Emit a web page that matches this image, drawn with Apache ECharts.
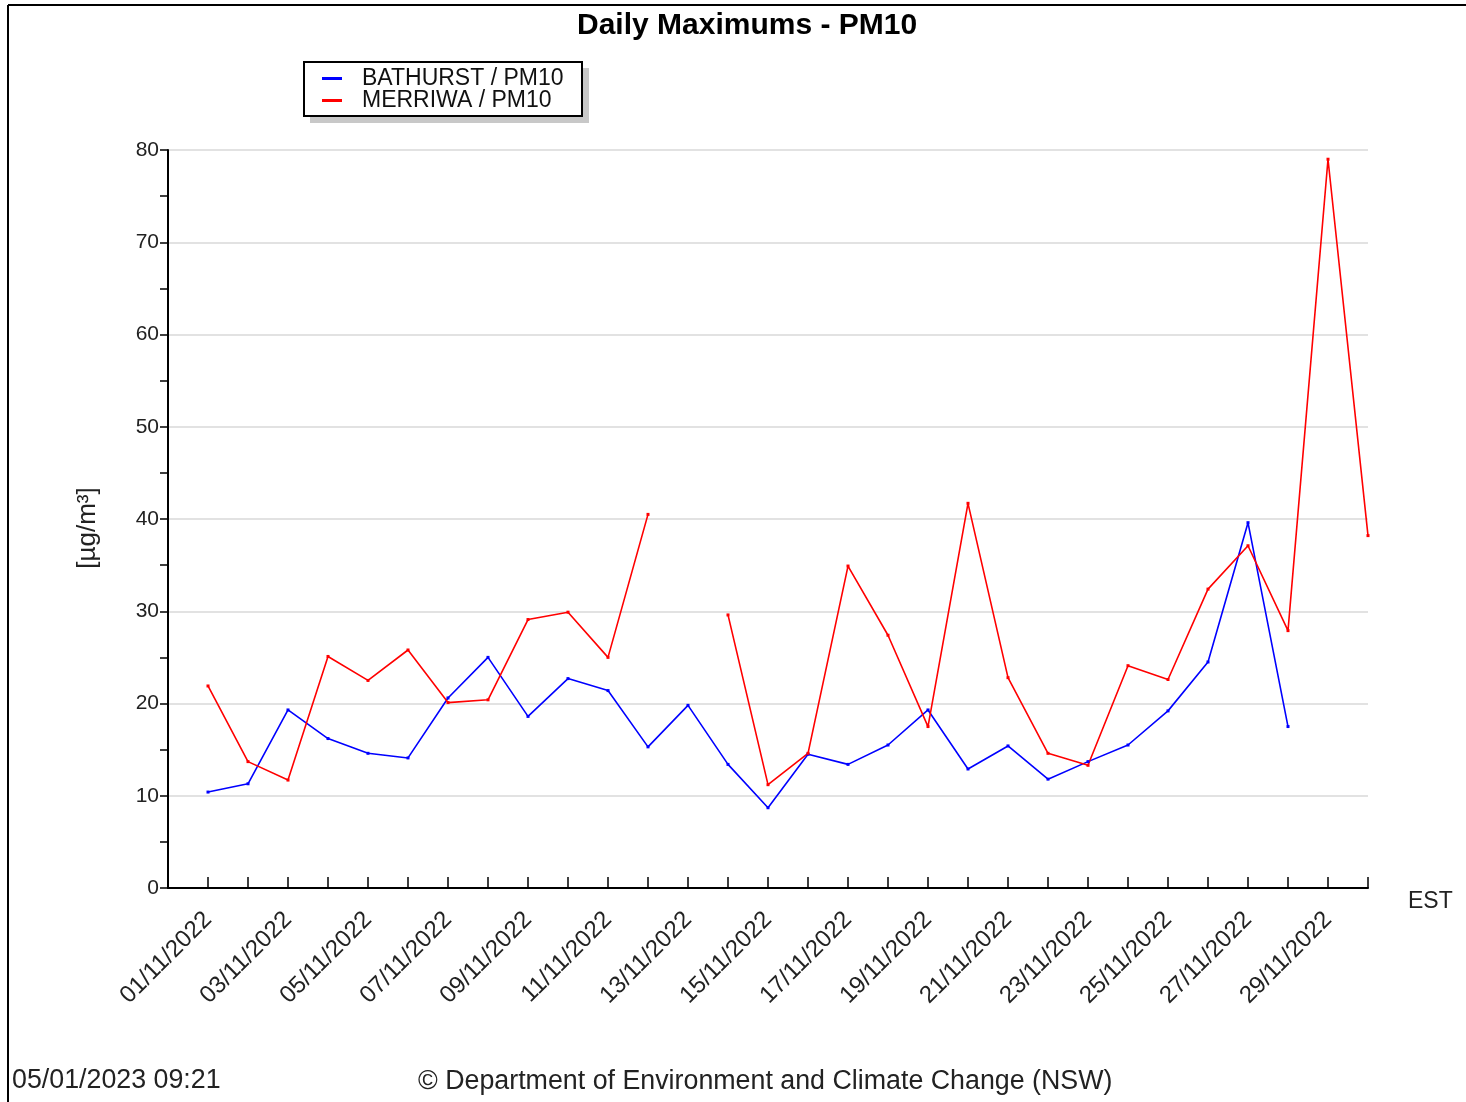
<!DOCTYPE html>
<html>
<head>
<meta charset="utf-8">
<script src="https://cdn.jsdelivr.net/npm/echarts@6/dist/echarts.min.js"></script>
<style>
html,body{margin:0;padding:0;background:#fff;}
#chart{width:1466px;height:1102px;}
</style>
</head>
<body>
<div id="chart"></div>
<script>
var dates = ['01/11/2022','02/11/2022','03/11/2022','04/11/2022','05/11/2022','06/11/2022','07/11/2022','08/11/2022','09/11/2022','10/11/2022',
             '11/11/2022','12/11/2022','13/11/2022','14/11/2022','15/11/2022','16/11/2022','17/11/2022','18/11/2022','19/11/2022','20/11/2022',
             '21/11/2022','22/11/2022','23/11/2022','24/11/2022','25/11/2022','26/11/2022','27/11/2022','28/11/2022','29/11/2022','30/11/2022'];
var bathurst = [10.4, 11.3, 19.3, 16.2, 14.6, 14.1, 20.6, 25.0, 18.6, 22.7,
                21.4, 15.3, 19.8, 13.4, 8.7, 14.5, 13.4, 15.5, 19.3, 12.9,
                15.4, 11.8, 13.7, 15.5, 19.2, 24.5, 39.6, 17.5, null, null];
var merriwa  = [21.9, 13.7, 11.7, 25.1, 22.5, 25.8, 20.1, 20.4, 29.1, 29.9,
                25.0, 40.5, null, 29.6, 11.2, 14.6, 34.9, 27.4, 17.5, 41.7,
                22.8, 14.6, 13.3, 24.1, 22.6, 32.4, 37.1, 27.9, 79.0, 38.2];
var seriesNames = ['BATHURST / PM10', 'MERRIWA / PM10'];
var yTicks = [0, 10, 20, 30, 40, 50, 60, 70, 80];

function pairs(vals){ return vals.map(function(v,i){ return [i+1, v]; }); }

var FONT = '"Liberation Sans", Arial, sans-serif';
var chart = echarts.init(document.getElementById('chart'), null, {renderer:'canvas'});
chart.setOption({
  animation:false,
  backgroundColor:'#ffffff',
  textStyle:{fontFamily:FONT},
  title:{
    text:'Daily Maximums - PM10',
    left:572, top:6,
    textStyle:{fontFamily:FONT, fontSize:30, fontWeight:'bold', color:'#000'}
  },
  legend:{
    orient:'vertical', left:322, top:67, padding:0,
    itemWidth:20, itemHeight:3, itemGap:-1,
    icon:'rect',
    textStyle:{fontFamily:FONT, fontSize:23, color:'#111', padding:[0,0,0,15]},
    data:seriesNames
  },
  grid:{left:168, right:98, top:150, bottom:214, containLabel:false},
  xAxis:{
    type:'value', min:0, max:30, interval:1,
    axisLine:{show:true, onZero:false, lineStyle:{color:'#000', width:2}},
    axisTick:{show:true, inside:true, length:11, lineStyle:{color:'#000', width:1.5},
      customValues: dates.map(function(d,i){return i+1;})},
    axisLabel:{
      rotate:45, margin:28, fontFamily:FONT, fontSize:24, color:'#222',
      customValues: dates.map(function(d,i){return i+1;}).filter(function(v){return v % 2 === 1;}),
      formatter:function(v){ return dates[v-1] || ''; }
    },
    splitLine:{show:false}
  },
  yAxis:{
    type:'value', min:0, max:80, interval:10,
    axisLine:{show:true, lineStyle:{color:'#000', width:2}},
    axisTick:{show:true, length:8, lineStyle:{color:'#000', width:1.5}},
    minorTick:{show:true, splitNumber:2, length:8, lineStyle:{color:'#000', width:1.5}},
    axisLabel:{margin:9, fontFamily:FONT, fontSize:21, color:'#222',
      formatter:function(v){ return yTicks.indexOf(v) >= 0 ? String(v) : ''; }},
    splitLine:{show:true, lineStyle:{color:'#d9d9d9', width:1.5}}
  },
  series:[
    {name:seriesNames[0], type:'line', data:pairs(bathurst), connectNulls:false,
     color:'#0000ff', symbol:'rect', symbolSize:3, showSymbol:true,
     lineStyle:{color:'#0000ff', width:1.6}, itemStyle:{color:'#0000ff'}},
    {name:seriesNames[1], type:'line', data:pairs(merriwa), connectNulls:false,
     color:'#ff0000', symbol:'rect', symbolSize:3, showSymbol:true,
     lineStyle:{color:'#ff0000', width:1.6}, itemStyle:{color:'#ff0000'}}
  ],
  graphic:[
    {type:'line', shape:{x1:8, y1:5, x2:1466, y2:5}, style:{stroke:'#000', lineWidth:2}},
    {type:'line', shape:{x1:8, y1:5, x2:8, y2:1102}, style:{stroke:'#000', lineWidth:2}},
    {type:'rect', shape:{x:310, y:68, width:279, height:55}, style:{fill:'#c8c8c8'}, z:-1},
    {type:'rect', shape:{x:304, y:62, width:278, height:54}, style:{fill:'#fff', stroke:'#000', lineWidth:2}, z:0},
    {type:'text', x:88, y:528, rotation:Math.PI/2,
     style:{text:'[µg/m³]', font:'26px ' + FONT, fill:'#222', align:'center', verticalAlign:'middle'}},
    {type:'text', left:1408, top:890, style:{text:'EST', font:'23px ' + FONT, fill:'#222'}},
    {type:'text', left:12, top:1067, style:{text:'05/01/2023 09:21', font:'26.8px ' + FONT, fill:'#222'}},
    {type:'text', left:418, top:1068, style:{text:'© Department of Environment and Climate Change (NSW)', font:'26.8px ' + FONT, fill:'#222'}}
  ]
});
</script>
</body>
</html>
